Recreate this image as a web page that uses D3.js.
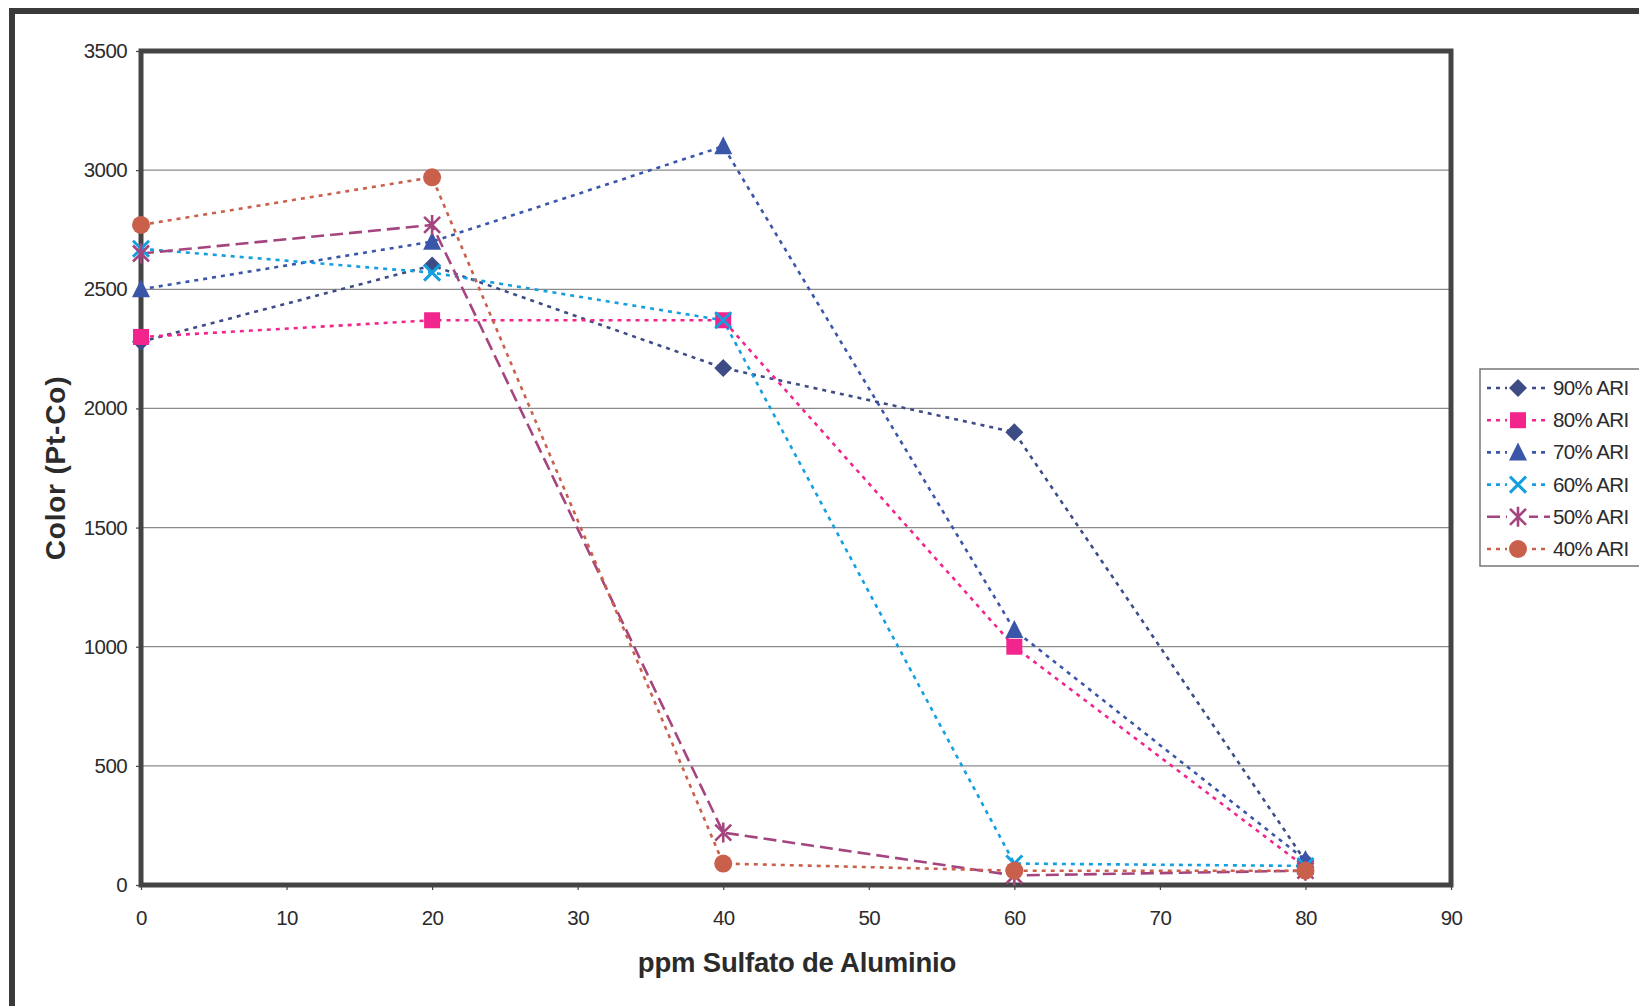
<!DOCTYPE html>
<html>
<head>
<meta charset="utf-8">
<script src="https://cdn.jsdelivr.net/npm/d3@7"></script>
<style>
  html, body { margin: 0; padding: 0; background: #fff; }
  svg { display: block; }
  text { font-family: "Liberation Sans", Arial, sans-serif; fill: #2b2b2b; }
</style>
</head>
<body>
<svg id="chart" width="1639" height="1006"></svg>
<script>
// Dosis de sulfato de aluminio (ppm)
const dosis = [0, 20, 40, 60, 80];

// Color medido (Pt-Co) para cada porcentaje de agua residual industrial
const ari90 = [2280, 2600, 2170, 1900, 100];
const ari80 = [2300, 2370, 2370, 1000, 75];
const ari70 = [2500, 2700, 3100, 1070, 105];
const ari60 = [2670, 2570, 2370, 90, 80];
const ari50 = [2650, 2770, 220, 40, 60];
const ari40 = [2770, 2970, 90, 60, 60];

const seriesNames = ["90% ARI", "80% ARI", "70% ARI", "60% ARI", "50% ARI", "40% ARI"];
const seriesValues = [ari90, ari80, ari70, ari60, ari50, ari40];

const xTicks = [0, 10, 20, 30, 40, 50, 60, 70, 80, 90];
const yTicks = [0, 500, 1000, 1500, 2000, 2500, 3000, 3500];

const styles = [
  { color: "#3e4c85", dash: "4,5", marker: "diamond" },
  { color: "#f2258c", dash: "4,5", marker: "square" },
  { color: "#3a56a8", dash: "4,5", marker: "triangle" },
  { color: "#139fe0", dash: "4,5", marker: "cross" },
  { color: "#a5457f", dash: "13,6", marker: "asterisk" },
  { color: "#c9604c", dash: "4,5", marker: "circle" }
];

const svg = d3.select("#chart");

// outer chart frame (runs past the right and bottom edges)
svg.append("path")
  .attr("d", "M12,1010 L12,11 L1645,11")
  .attr("fill", "none").attr("stroke", "#3a3a3a").attr("stroke-width", 6);

const x = d3.scaleLinear().domain([0, 90]).range([141, 1451]);
const y = d3.scaleLinear().domain([0, 3500]).range([885, 51]);

// gridlines
svg.append("g")
  .selectAll("line")
  .data(yTicks.filter(v => v > 0 && v < 3500))
  .join("line")
  .attr("x1", x(0)).attr("x2", x(90))
  .attr("y1", d => y(d)).attr("y2", d => y(d))
  .attr("stroke", "#8a8a8a").attr("stroke-width", 1.2);

// axes
const yAxis = svg.append("g")
  .attr("transform", `translate(${x(0)},0)`)
  .call(d3.axisLeft(y).tickValues(yTicks).tickSize(5).tickPadding(9).tickFormat(d3.format("d")));
const xAxis = svg.append("g")
  .attr("transform", `translate(0,${y(0)})`)
  .call(d3.axisBottom(x).tickValues(xTicks).tickSize(5).tickPadding(20).tickFormat(d3.format("d")));

[yAxis, xAxis].forEach(g => {
  g.select(".domain").remove();
  g.selectAll(".tick line").attr("stroke", "#444").attr("stroke-width", 1.2);
  g.selectAll(".tick text")
    .attr("font-size", 20.5).attr("fill", "#2b2b2b")
    .style("font-family", "'Liberation Sans', Arial, sans-serif")
    .attr("letter-spacing", "-0.6");
});

// plot area frame
svg.append("rect")
  .attr("x", x(0)).attr("y", y(3500))
  .attr("width", x(90) - x(0)).attr("height", y(0) - y(3500))
  .attr("fill", "none").attr("stroke", "#444").attr("stroke-width", 5);

// axis titles
svg.append("text")
  .attr("x", (x(0) + x(90)) / 2 + 1).attr("y", 972)
  .attr("text-anchor", "middle")
  .attr("font-size", 27.5).attr("font-weight", "bold").attr("letter-spacing", "-0.2")
  .text("ppm Sulfato de Aluminio");

svg.append("text")
  .attr("transform", "translate(65,468) rotate(-90)")
  .attr("text-anchor", "middle")
  .attr("font-size", 28).attr("font-weight", "bold").attr("letter-spacing", "0.8")
  .text("Color (Pt-Co)");

function drawMarker(g, type, color) {
  switch (type) {
    case "diamond":
      g.append("path").attr("d", "M0,-9 L9,0 L0,9 L-9,0 Z").attr("fill", color);
      break;
    case "square":
      g.append("rect").attr("x", -8).attr("y", -8).attr("width", 16).attr("height", 16).attr("fill", color);
      break;
    case "triangle":
      g.append("path").attr("d", "M0,-10 L9,8 L-9,8 Z").attr("fill", color);
      break;
    case "cross":
      g.append("path").attr("d", "M-8,-8 L8,8 M8,-8 L-8,8")
        .attr("stroke", color).attr("stroke-width", 3).attr("fill", "none");
      break;
    case "asterisk":
      g.append("path").attr("d", "M-8,-8 L8,8 M8,-8 L-8,8 M0,-10 L0,10")
        .attr("stroke", color).attr("stroke-width", 2.6).attr("fill", "none");
      break;
    case "circle":
      g.append("circle").attr("r", 9).attr("fill", color);
      break;
  }
}

const line = d3.line().x((d, i) => x(dosis[i])).y(d => y(d));

// series lines
seriesValues.forEach((vals, s) => {
  svg.append("path")
    .datum(vals)
    .attr("d", line)
    .attr("fill", "none")
    .attr("stroke", styles[s].color)
    .attr("stroke-width", 2.6)
    .attr("stroke-dasharray", styles[s].dash);
});

// series markers
seriesValues.forEach((vals, s) => {
  vals.forEach((v, i) => {
    const g = svg.append("g").attr("transform", `translate(${x(dosis[i])},${y(v)})`);
    drawMarker(g, styles[s].marker, styles[s].color);
  });
});

// legend
const legend = svg.append("g");
legend.append("rect")
  .attr("x", 1480).attr("y", 369).attr("width", 170).attr("height", 197)
  .attr("fill", "#fff").attr("stroke", "#777").attr("stroke-width", 1.5);

seriesNames.forEach((name, s) => {
  const ly = 388 + s * 32.2;
  legend.append("line")
    .attr("x1", 1487).attr("x2", 1550).attr("y1", ly).attr("y2", ly)
    .attr("stroke", styles[s].color).attr("stroke-width", 2.6)
    .attr("stroke-dasharray", styles[s].dash);
  const g = legend.append("g").attr("transform", `translate(1518,${ly})`);
  g.append("rect").attr("x", -11).attr("y", -11).attr("width", 22).attr("height", 22).attr("fill", "#fff");
  drawMarker(g, styles[s].marker, styles[s].color);
  legend.append("text")
    .attr("x", 1553).attr("y", ly + 7)
    .attr("font-size", 20.5).attr("letter-spacing", "-0.6")
    .text(name);
});
</script>
</body>
</html>
